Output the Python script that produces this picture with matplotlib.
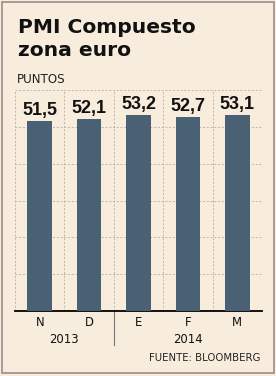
import matplotlib
matplotlib.use("Agg")
import matplotlib.pyplot as plt
from matplotlib.patches import Rectangle

# Datos del gráfico
meses = ["N", "D", "E", "F", "M"]
valores = [51.5, 52.1, 53.2, 52.7, 53.1]
etiquetas = ["51,5", "52,1", "53,2", "52,7", "53,1"]
anios = ["2013", "2014"]
anios_pos = [0.5, 3.0]

FONDO = "#f8eddd"
BARRA = "#4a6075"

fig = plt.figure(figsize=(2.76, 3.76), dpi=100, facecolor=FONDO)
W, H = 276, 376

# marco exterior
fig.patches.append(Rectangle((1.5 / W, 3.5 / H), 272 / W, 371 / H,
                             transform=fig.transFigure, fill=False,
                             edgecolor="#9a8c8c", linewidth=1.2))

ax = fig.add_axes([15 / W, 65 / H, 247 / W, 221 / H])
ax.set_facecolor(FONDO)
x = list(range(len(meses)))
ax.bar(x, valores, width=0.5, color=BARRA, zorder=3)
ax.set_xlim(-0.5, len(meses) - 0.5)
ax.set_ylim(0, 60)

for s in ["top", "left", "right"]:
    ax.spines[s].set_visible(False)
ax.spines["bottom"].set_linewidth(1.3)
ax.spines["bottom"].set_color("black")
ax.set_xticks([])
ax.set_yticks([])

# rejilla discontinua
for yv in [10, 20, 30, 40, 50, 60]:
    ax.axhline(yv, color="#b5afa6", linestyle=(0, (2.5, 2)), linewidth=0.6, zorder=1)
for xv in [-0.5, 0.5, 1.5, 2.5, 3.5, 4.5]:
    ax.axvline(xv, color="#b5afa6", linestyle=(0, (2.5, 2)), linewidth=0.6, zorder=1)

for xi, v, t in zip(x, valores, etiquetas):
    ax.annotate(t, (xi, v), xytext=(0, 4.5), textcoords="offset points",
                ha="center", va="baseline", fontsize=13, fontweight="bold",
                family="Liberation Sans", color="#111111")

tr = ax.get_xaxis_transform()
for xi, m in zip(x, meses):
    ax.text(xi, -0.054, m, transform=tr, ha="center", va="center",
            fontsize=8.4, color="#111111")
for xp, a in zip(anios_pos, anios):
    ax.text(xp, -0.131, a, transform=tr, ha="center", va="center",
            fontsize=8.4, color="#111111")
ax.plot([1.5, 1.5], [0, -0.154], transform=tr, color="#777777",
        linewidth=0.8, clip_on=False)

fig.text(18 / W, 1 - 33 / H, "PMI Compuesto", fontsize=14.6, fontweight="bold",
         va="baseline", color="#111111")
fig.text(18 / W, 1 - 56 / H, "zona euro", fontsize=14.6, fontweight="bold",
         va="baseline", color="#111111")
fig.text(17 / W, 1 - 83 / H, "PUNTOS", fontsize=8.6,
         va="baseline", color="#222222")
fig.text(260 / W, 1 - 361 / H, "FUENTE: BLOOMBERG", fontsize=7.3,
         ha="right", va="baseline", color="#222222")

fig.savefig("out.png", dpi=100, facecolor=FONDO)
